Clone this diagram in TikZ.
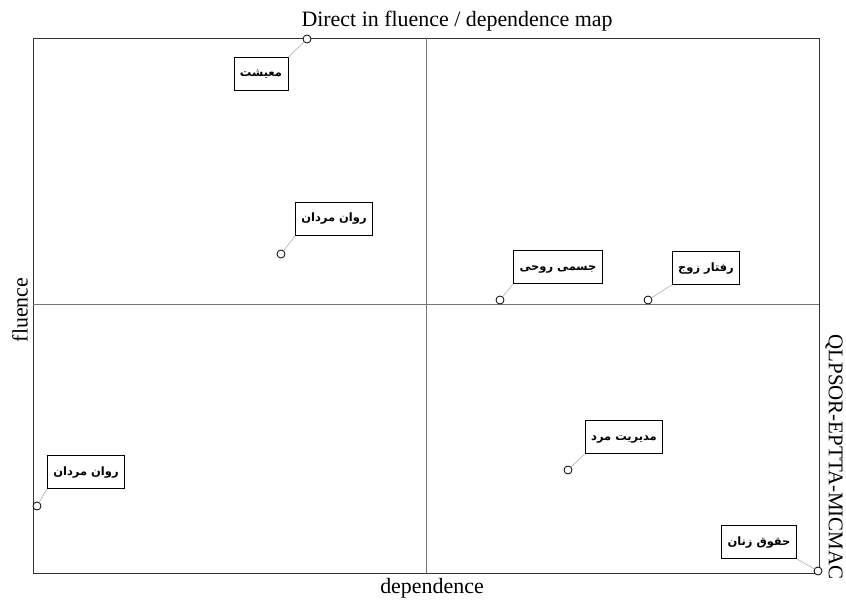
\documentclass[tikz,border=0pt]{standalone}
\usepackage{fontspec}
\setmainfont{Liberation Serif}
\newfontfamily\arabicfont[Script=Arabic]{DejaVu Sans}
\TeXXeTstate=1
\usetikzlibrary{calc}

\begin{document}
\begin{tikzpicture}[x=1bp,y=-1bp]
\tikzstyle{pt}=[circle, draw=black, fill=white, inner sep=0pt, minimum size=8bp, line width=0.8bp]
\tikzstyle{lbl}=[rectangle, draw=black, fill=white, line width=0.9bp, inner xsep=6bp, text height=8bp, text depth=2bp, minimum height=33bp, font=\arabicfont\bfseries\fontsize{11.5}{13}\selectfont]
\tikzstyle{connect}=[draw=black!25!cyan!30!gray!60, line width=0.7bp]
\tikzstyle{axtext}=[font=\fontsize{22}{26}\selectfont, inner sep=0pt]

  \useasboundingbox (0,0) rectangle (846,600);

  % frame and quadrants
  \draw[black!80, line width=0.9bp] (33,38) rectangle (819,573);
  \draw[black!55, line width=0.6bp] (426,38) -- (426,573);
  \draw[black!55, line width=0.6bp] (33,304) -- (819,304);

  \node[axtext] (title) at (457,21) {Direct in fluence / dependence map};
  \node[axtext] (xlab) at (432,588) {dependence};
  \node[axtext, rotate=90] (ylab) at (20,310) {fluence};
  \node[axtext, font=\fontsize{21}{25}\selectfont, rotate=-90] (mlab) at (834,457) {QLPSOR-EPTTA-MICMAC};

  % points and labels
  \node[pt]  (p1) at (307,39) {};
  \node[lbl] (l1) at (261,74) {\beginR معیشت\endR};
  \node[pt]  (p2) at (281,254) {};
  \node[lbl] (l2) at (334,219) {\beginR روان مردان\endR};
  \node[pt]  (p3) at (500,300) {};
  \node[lbl] (l3) at (558,267) {\beginR جسمی روحی\endR};
  \node[pt]  (p4) at (648,300) {};
  \node[lbl] (l4) at (706,268) {\beginR رفتار زوج\endR};
  \node[pt]  (p5) at (37,506) {};
  \node[lbl] (l5) at (86,472) {\beginR روان مردان\endR};
  \node[pt]  (p6) at (568,470) {};
  \node[lbl] (l6) at (624,437) {\beginR مدیریت مرد\endR};
  \node[pt]  (p7) at (818,571) {};
  \node[lbl] (l7) at (759,542) {\beginR حقوق زنان\endR};

  \path (p1) edge [connect] (l1.north east)
        (p2) edge [connect] (l2.south west)
        (p3) edge [connect] (l3.south west)
        (p4) edge [connect] (l4.south west)
        (p5) edge [connect] (l5.south west)
        (p6) edge [connect] (l6.south west)
        (p7) edge [connect] (l7.south east);

\end{tikzpicture}
\end{document}
